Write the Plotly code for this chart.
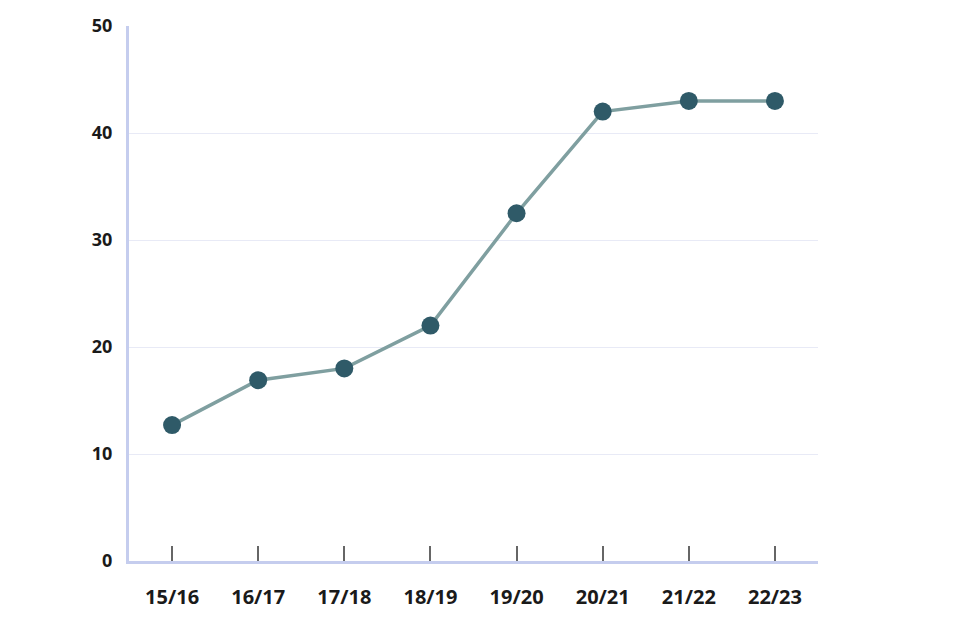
import plotly.graph_objects as go

categories = ["15/16", "16/17", "17/18", "18/19", "19/20", "20/21", "21/22", "22/23"]
values = [12.7, 16.9, 18.0, 22.0, 32.5, 42.0, 43.0, 43.0]
y_ticks = [0, 10, 20, 30, 40, 50]

fig = go.Figure()
fig.add_trace(go.Scatter(
    x=categories, y=values, mode="lines+markers",
    line=dict(color="#7f9fa0", width=3.5),
    marker=dict(color="#2f5a68", size=18),
    showlegend=False,
))

fig.update_layout(
    width=960, height=640,
    margin=dict(l=121, r=150, t=18, b=87),
    paper_bgcolor="white", plot_bgcolor="white",
    font=dict(family="Open Sans, sans-serif", color="#1a1a1a"),
)
fig.update_xaxes(
    type="category", range=[-0.5, 7.5],
    showline=True, linecolor="#c5cdee", linewidth=3,
    ticks="inside", ticklen=15, tickwidth=1.5, tickcolor="#666666",
    showgrid=False, automargin=False,
    tickfont=dict(size=20, family="Open Sans, sans-serif", weight="bold"),
    ticklabelstandoff=16,
)
fig.update_yaxes(
    range=[0, 50], tickvals=y_ticks,
    showline=True, linecolor="#c5cdee", linewidth=3,
    showgrid=True, gridcolor="#e8eaf6", gridwidth=1,
    zeroline=False, automargin=False,
    tickfont=dict(size=18, family="Open Sans, sans-serif", weight="bold"),
    ticklabelstandoff=10,
)

fig.write_html("out.html")
